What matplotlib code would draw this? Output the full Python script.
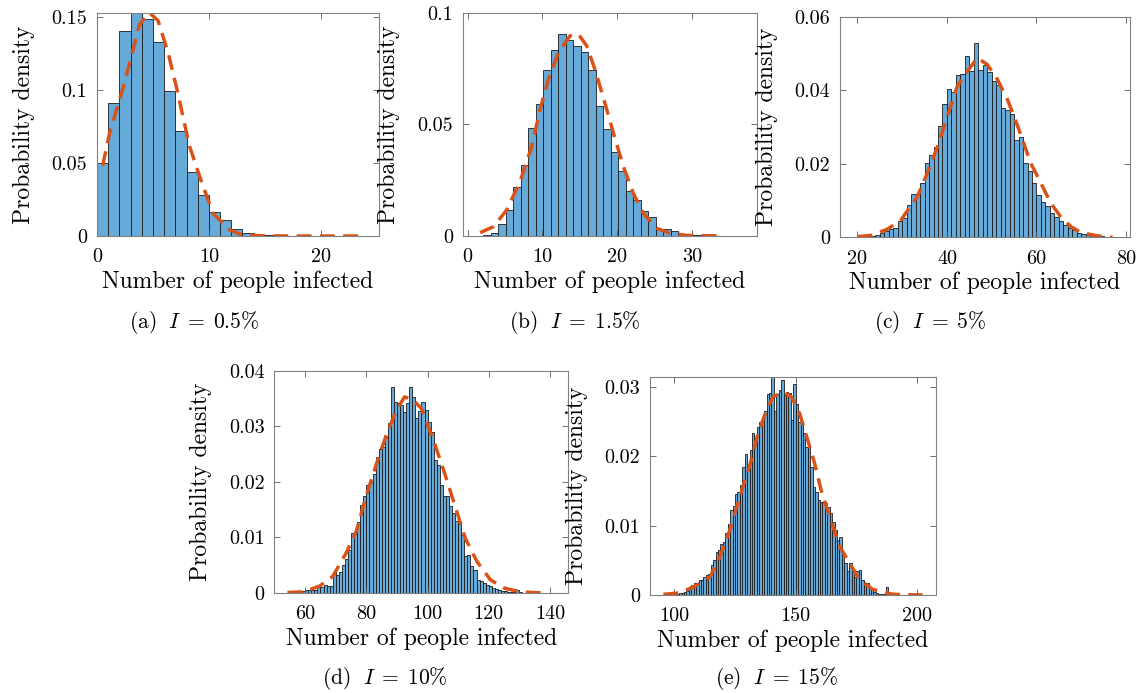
import numpy as np
import matplotlib
matplotlib.use('Agg')
import matplotlib.pyplot as plt

plt.rcParams['font.family'] = 'serif'
plt.rcParams['font.serif'] = ['cmr10', 'DejaVu Serif']
plt.rcParams['mathtext.fontset'] = 'cm'
plt.rcParams['axes.formatter.use_mathtext'] = True

# ---- data (bin start, heights of width-1 bins, fitted curve) ----
a_start = 0
a_heights = [0.050, 0.0913, 0.1406, 0.156, 0.1486, 0.133, 0.0991, 0.0722, 0.0436, 0.0284,
             0.0163, 0.0112, 0.0046, 0.0018, 0.0009, 0.0005, 0.0002, 0.0001]
a_fit_x = [0.5, 1.13, 2.3, 3.07, 3.8, 4.7, 5.45, 6.35, 7.14, 8.27, 9.17, 10.36, 11.85, 13, 15, 18, 21, 23.5]
a_fit_y = [0.048, 0.0706, 0.1005, 0.123, 0.145, 0.1528, 0.1475, 0.1257, 0.1005, 0.0615, 0.0408,
           0.0156, 0.0041, 0.0007, 0.0001, 0, 0, 0]

b_start = 2.1
b_heights = [0.00045, 0.0015, 0.0054, 0.0116, 0.0221, 0.0318, 0.0485, 0.0593, 0.0743, 0.0833,
             0.0905, 0.088, 0.0853, 0.0823, 0.0745, 0.0583, 0.048, 0.0375, 0.029, 0.0204,
             0.0161, 0.0113, 0.0083, 0.0033, 0.0032, 0.0021, 0.0009, 0.00045, 0.0003, 0.0003,
             0.00015, 0.00015, 0.00015]
b_fit_x = [1.69, 3.47, 5.24, 7.02, 8.58, 9.69, 10.8, 12.13, 13.69, 14.8, 15.9, 17.0, 18.13, 19.47,
           20.8, 22.13, 23.47, 25.24, 27.02, 29.24, 34.1]
b_fit_y = [0.0015, 0.0042, 0.0117, 0.0245, 0.0402, 0.0568, 0.0703, 0.0823, 0.0898, 0.0905, 0.0853,
           0.0748, 0.062, 0.0462, 0.0312, 0.0192, 0.0102, 0.0035, 0.0012, 0.0003, 0]

c_start = 23
c_heights = [0.00036, 0.00055, 0.0011, 0.0017, 0.0022, 0.0024, 0.0043, 0.0052, 0.0088, 0.0117,
             0.0117, 0.0147, 0.0202, 0.0225, 0.0245, 0.0304, 0.0363, 0.0404, 0.0395, 0.0441,
             0.0445, 0.0493, 0.0452, 0.0529, 0.0455, 0.0469, 0.0449, 0.0425, 0.0415, 0.0352,
             0.0347, 0.0334, 0.0265, 0.0273, 0.0202, 0.0179, 0.0147, 0.0115, 0.0097, 0.0084,
             0.0065, 0.0056, 0.0043, 0.0034, 0.0025, 0.002, 0.0011, 0.0008, 0.0009, 0.0005,
             0.0004, 0.0003, 0.0002, 0.0002]
c_fit_x = [20, 22.98, 26.7, 29.7, 33.4, 35.6, 37.9, 40.1, 42.3, 44.6, 46.8, 49.0, 51.3, 53.5, 55.0,
           56.9, 58.7, 61.0, 63.2, 65.4, 67.7, 69.9, 73.6, 77]
c_fit_y = [0.0002, 0.0005, 0.0022, 0.0047, 0.0111, 0.0175, 0.0247, 0.0329, 0.0411, 0.0452, 0.0488,
           0.047, 0.0429, 0.0375, 0.0329, 0.0265, 0.0202, 0.0147, 0.0093, 0.0056, 0.0029, 0.0013,
           0.0004, 0]

d_start = 59
d_heights = [0.0003, 0.0005, 0.0005, 0.0005, 0.0005, 0.0011, 0.0011, 0.0014, 0.0013, 0.0012,
             0.0037, 0.0032, 0.0037, 0.0051, 0.0061, 0.0078, 0.0108, 0.0107, 0.0127, 0.0159,
             0.0175, 0.0195, 0.0199, 0.0214, 0.0244, 0.0259, 0.0262, 0.0281, 0.0305, 0.037,
             0.0343, 0.0341, 0.0338, 0.0326, 0.0341, 0.0371, 0.0353, 0.0314, 0.0328, 0.0343,
             0.0329, 0.0308, 0.029, 0.024, 0.0231, 0.0195, 0.0175, 0.0174, 0.0157, 0.0144,
             0.0129, 0.0125, 0.0105, 0.0066, 0.0069, 0.0049, 0.0042, 0.0024, 0.0021, 0.0018,
             0.0015, 0.0013, 0.0009, 0.0007, 0.0006, 0.0003, 0.0004, 0.0002, 0.0001, 0.0001,
             0.0005, 0.0001]
d_fit_x = [54.2, 59.1, 64.6, 69.0, 73.4, 76.7, 79.9, 83.2, 86.5, 89.8, 92.5, 95.3, 98.0, 101.9,
           105.2, 109.0, 112.3, 116.1, 120.5, 124.9, 130.4, 138.0]
d_fit_y = [0.0001, 0.0002, 0.0012, 0.003, 0.0072, 0.0111, 0.0174, 0.0231, 0.0284, 0.0329, 0.0353,
           0.0347, 0.0332, 0.0275, 0.0222, 0.0156, 0.0099, 0.0057, 0.0024, 0.0009, 0.0002, 0]

e_start = 100
e_heights = [0.0002, 0.0002, 0.0003, 0.0003, 0.0005, 0.0006, 0.0011, 0.0014, 0.0017, 0.0018,
             0.0021, 0.0022, 0.0026, 0.0029, 0.0031, 0.0043, 0.0051, 0.0062, 0.0065, 0.0073,
             0.0077, 0.0089, 0.0103, 0.0122, 0.0128, 0.0145, 0.0149, 0.0158, 0.0184, 0.0203,
             0.0184, 0.0209, 0.0233, 0.0226, 0.0243, 0.025, 0.0254, 0.0266, 0.029, 0.0291,
             0.0316, 0.0266, 0.029, 0.0296, 0.031, 0.0288, 0.0293, 0.0291, 0.0252, 0.0305,
             0.0276, 0.025, 0.0245, 0.0234, 0.0214, 0.0213, 0.0184, 0.0156, 0.0149, 0.0137,
             0.0134, 0.0134, 0.0132, 0.0127, 0.0118, 0.0106, 0.0094, 0.008, 0.0084, 0.006,
             0.0046, 0.0034, 0.0046, 0.0034, 0.0026, 0.0034, 0.0036, 0.0022, 0.0017, 0.0017,
             0.0012, 0.0008, 0.0005, 0.0003, 0.0002, 0.0001, 0.0001, 0.0011, 0.0003, 0.0001]
e_fit_x = [95.5, 102.3, 109.2, 114.7, 118.8, 122.9, 127.0, 131.1, 134.5, 137.9, 140.7, 144.8, 148.2,
           151.6, 154.4, 157.8, 160.5, 164.0, 168.1, 172.2, 176.3, 181.8, 190.0, 202.3]
e_fit_y = [0.0001, 0.0003, 0.0014, 0.0026, 0.0055, 0.0094, 0.0142, 0.0187, 0.0233, 0.0266, 0.0286,
           0.0293, 0.0286, 0.0262, 0.023, 0.019, 0.0151, 0.0113, 0.007, 0.0046, 0.0022, 0.0008,
           0.0001, 0]

captions = ['(a) $\\;I\\;=\\;0.5\\%$', '(b) $\\;I\\;=\\;1.5\\%$', '(c) $\\;I\\;=\\;5\\%$',
            '(d) $\\;I\\;=\\;10\\%$', '(e) $\\;I\\;=\\;15\\%$']
xticks = [[0, 10, 20], [0, 10, 20, 30], [20, 40, 60, 80], [60, 80, 100, 120, 140], [100, 150, 200]]
yticks = [[0, 0.05, 0.1, 0.15], [0, 0.05, 0.1], [0, 0.02, 0.04, 0.06],
          [0, 0.01, 0.02, 0.03, 0.04], [0, 0.01, 0.02, 0.03]]
ytick_labels = [['0', '0.05', '0.1', '0.15'], ['0', '0.05', '0.1'], ['0', '0.02', '0.04', '0.06'],
                ['0', '0.01', '0.02', '0.03', '0.04'], ['0', '0.01', '0.02', '0.03']]

panels = [
    (a_start, a_heights, a_fit_x, a_fit_y),
    (b_start, b_heights, b_fit_x, b_fit_y),
    (c_start, c_heights, c_fit_x, c_fit_y),
    (d_start, d_heights, d_fit_x, d_fit_y),
    (e_start, e_heights, e_fit_x, e_fit_y),
]

W, H = 1143, 693
# axes boxes in pixels: left, top, right, bottom
boxes = [(97, 13, 379, 236), (462.5, 13, 756.7, 236), (840, 16.7, 1130, 237.3),
         (274.3, 370.7, 568.3, 593), (650, 377.3, 936, 595)]
xlims = [(0, 25.2), (-0.67, 38.6), (16.1, 80.9), (49.9, 146), (90, 207.8)]
ylims = [(0, 0.1527), (0, 0.1), (0, 0.06), (0, 0.04), (0, 0.0314)]
cap_pos = [(194, 323), (575, 323), (930, 323), (385, 679), (777, 679)]

bar_color = '#65aad8'
fit_color = '#d95319'

fig = plt.figure(figsize=(W / 100, H / 100), dpi=100)

for i, (start, heights, fx, fy) in enumerate(panels):
    l, t, r, b = boxes[i]
    ax = fig.add_axes([l / W, 1 - b / H, (r - l) / W, (b - t) / H])
    lefts = start + np.arange(len(heights))
    ax.bar(lefts, heights, width=1, align='edge', color=bar_color,
           edgecolor='#1a1a1a', linewidth=0.6)
    ax.plot(fx, fy, color=fit_color, linewidth=2.5, linestyle=(0, (4.3, 2.4)))
    ax.set_xlim(*xlims[i])
    ax.set_ylim(*ylims[i])
    ax.set_xticks(xticks[i])
    ax.set_xticklabels([str(v) for v in xticks[i]])
    ax.set_yticks(yticks[i])
    ax.set_yticklabels(ytick_labels[i])
    ax.tick_params(direction='in', length=4, width=0.6, color='#555555',
                   top=True, right=True, labelsize=14.5)
    ax.tick_params(axis='x', pad=9)
    ax.tick_params(axis='y', pad=7)
    for s in ax.spines.values():
        s.set_color('#808080')
        s.set_linewidth(0.8)
    ax.set_xlabel('Number of people infected', fontsize=17, labelpad=3)
    ax.set_ylabel('Probability density', fontsize=17, labelpad=12)
    fig.text(cap_pos[i][0] / W, 1 - cap_pos[i][1] / H, captions[i],
             fontsize=15.5, ha='center', va='center')

fig.savefig('out.png', dpi=100)
